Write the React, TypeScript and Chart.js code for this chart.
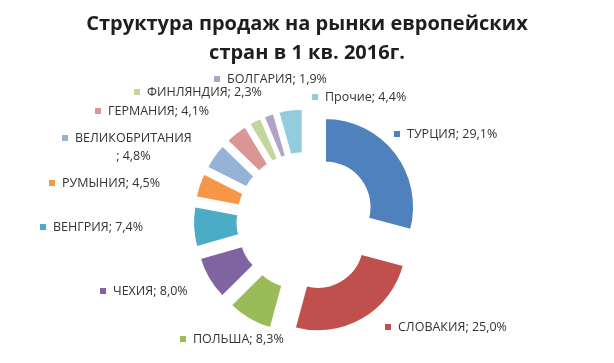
import React, { useEffect, useRef } from 'react';
import { Chart, registerables } from 'chart.js';

Chart.register(...registerables);

// ---- data ----
const categories = ['ТУРЦИЯ', 'СЛОВАКИЯ', 'ПОЛЬША', 'ЧЕХИЯ', 'ВЕНГРИЯ', 'РУМЫНИЯ', 'ВЕЛИКОБРИТАНИЯ', 'ГЕРМАНИЯ', 'ФИНЛЯНДИЯ', 'БОЛГАРИЯ', 'Прочие'];
const shares = [29.1, 25.0, 8.3, 8.0, 7.4, 4.5, 4.8, 4.1, 2.3, 1.9, 4.4];
const titleLines = ['Структура продаж на рынки европейских', 'стран в 1 кв. 2016г.'];

// ---- styles / layout ----
const colors = ['#4F81BD', '#C0504D', '#9BBB59', '#8064A2', '#4BACC6', '#F79646', '#95B3D7', '#D99694', '#C3D69B', '#B3A2C7', '#93CDDD'];
const EXPLODE = 24;
const FONT = '"Open Sans", "DejaVu Sans", sans-serif';
// label marker positions relative to doughnut centre; wrap = break after name
const labelPos = [
  { dx: 91, dy: -87.5 },
  { dx: 82, dy: 105.5 },
  { dx: -123, dy: 117.5 },
  { dx: -203, dy: 69.5 },
  { dx: -263, dy: 5.5 },
  { dx: -254, dy: -38.5 },
  { dx: -241, dy: -83.5, wrap: true },
  { dx: -208, dy: -110.5 },
  { dx: -169, dy: -129.5 },
  { dx: -89, dy: -142.5 },
  { dx: 9, dy: -124.5 },
];

const fmt = (v: number) => v.toFixed(1).replace('.', ',') + '%';

const explodePlugin = {
  id: 'explodeArcs',
  afterDatasetsUpdate(chart: any) {
    const meta = chart.getDatasetMeta(0);
    meta.data.forEach((arc: any) => {
      const mid = (arc.startAngle + arc.endAngle) / 2;
      arc.x += Math.cos(mid) * EXPLODE;
      arc.y += Math.sin(mid) * EXPLODE;
    });
  },
};

const textPlugin = {
  id: 'textLabels',
  afterDraw(chart: any) {
    const ctx = chart.ctx as CanvasRenderingContext2D;
    const ca = chart.chartArea;
    const cx = (ca.left + ca.right) / 2;
    const cy = (ca.top + ca.bottom) / 2;
    ctx.save();
    // title
    ctx.fillStyle = '#1e1e1e';
    ctx.font = `bold 20px ${FONT}`;
    ctx.textAlign = 'center';
    ctx.textBaseline = 'middle';
    ctx.fillText(titleLines[0], 307, 24);
    ctx.fillText(titleLines[1], 307, 53);
    // data labels
    ctx.font = `12.5px ${FONT}`;
    categories.forEach((name, i) => {
      const p = labelPos[i];
      const mx = cx + p.dx;
      const my = cy + p.dy;
      ctx.fillStyle = colors[i];
      ctx.fillRect(mx - 3, my - 3, 6, 6);
      ctx.fillStyle = '#333333';
      ctx.textAlign = 'left';
      if (p.wrap) {
        ctx.fillText(name, mx + 10, my);
        const w = ctx.measureText(name).width;
        ctx.textAlign = 'center';
        ctx.fillText('; ' + fmt(shares[i]), mx + 10 + w / 2, my + 18);
      } else {
        ctx.fillText(`${name}; ${fmt(shares[i])}`, mx + 10, my);
      }
    });
    ctx.restore();
  },
};

export default function App() {
  const ref = useRef<HTMLCanvasElement | null>(null);
  useEffect(() => {
    if (!ref.current) return;
    const chart = new Chart(ref.current, {
      type: 'doughnut',
      data: {
        labels: categories,
        datasets: [
          {
            data: shares,
            backgroundColor: colors,
            borderColor: '#ffffff',
            borderWidth: 2,
          },
        ],
      },
      options: {
        animation: false,
        responsive: false,
        events: [],
        radius: 89,
        cutout: '50%',
        layout: { padding: { left: 0, right: 2, top: 80, bottom: 0 } },
        plugins: {
          legend: { display: false },
          tooltip: { enabled: false },
          title: { display: false },
        },
      } as any,
      plugins: [explodePlugin, textPlugin],
    });
    return () => chart.destroy();
  }, []);
  return (
    <div style={{ position: 'absolute', left: 0, top: 0, width: 614, height: 363, background: '#fff' }}>
      <canvas ref={ref} width={614} height={363} style={{ width: 614, height: 363, display: 'block' }} />
    </div>
  );
}
